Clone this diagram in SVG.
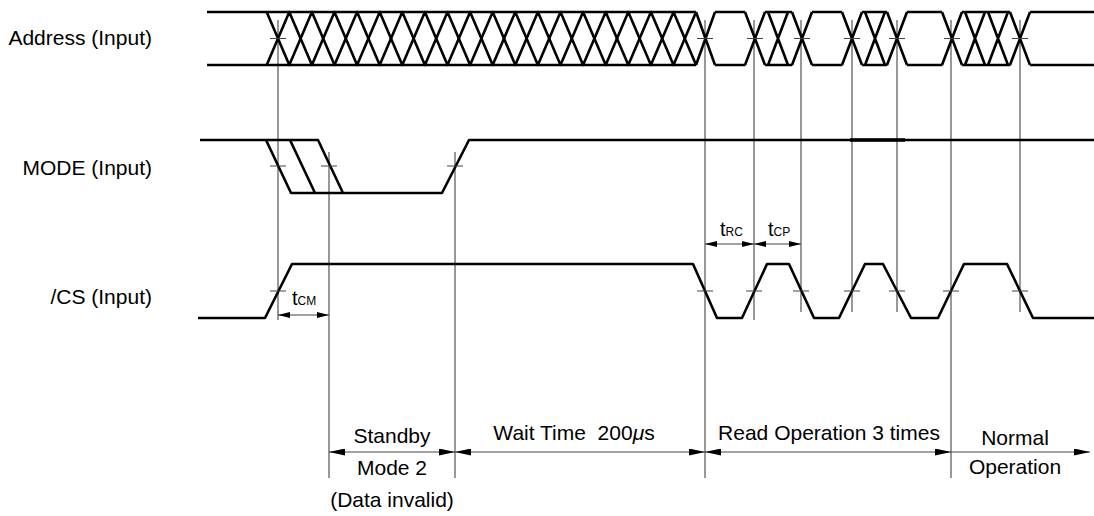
<svg xmlns="http://www.w3.org/2000/svg" width="1094" height="516" viewBox="0 0 1094 516">
<style>
text{font-family:"Liberation Sans",Arial,Helvetica,sans-serif;fill:#000}
.lbl{font-size:21px;text-anchor:end}
.ann{font-size:21px;text-anchor:middle}
.wave{fill:none;stroke:#000;stroke-width:2.6;stroke-linejoin:round;stroke-linecap:butt}
.ref{stroke:#444;stroke-width:1.1;fill:none}
.tick{stroke:#444;stroke-width:1.2;fill:none}
.dim{stroke:#444;stroke-width:1.2;fill:none}
.big{marker-start:url(#ab);marker-end:url(#ab)}
.sm{marker-start:url(#as);marker-end:url(#as)}
.t{font-size:20px}
.sub{font-size:12px}
</style>
<defs>
<marker id="ab" viewBox="0 0 16 7" refX="16" refY="3.5" markerWidth="16" markerHeight="7" markerUnits="userSpaceOnUse" orient="auto-start-reverse"><path d="M0,0 L16,3.5 L0,7 z" fill="#000"/></marker>
<marker id="as" viewBox="0 0 12 6" refX="12" refY="3" markerWidth="12" markerHeight="6" markerUnits="userSpaceOnUse" orient="auto-start-reverse"><path d="M0,0 L12,3 L0,6 z" fill="#000"/></marker>
</defs>

<g id="connectors">
<g id="reference-lines">
<line class="ref" x1="278" y1="20" x2="278" y2="320"/>
<line class="ref" x1="329" y1="152" x2="329" y2="478"/>
<line class="ref" x1="455" y1="152" x2="455" y2="478"/>
<line class="ref" x1="705" y1="20" x2="705" y2="478"/>
<line class="ref" x1="754" y1="20" x2="754" y2="320"/>
<line class="ref" x1="801" y1="20" x2="801" y2="312"/>
<line class="ref" x1="852" y1="20" x2="852" y2="312"/>
<line class="ref" x1="897" y1="20" x2="897" y2="312"/>
<line class="ref" x1="951" y1="20" x2="951" y2="478"/>
<line class="ref" x1="1020" y1="20" x2="1020" y2="312"/>
</g>
<g id="dimensions">
<line class="dim sm" x1="278" y1="315" x2="329" y2="315"/>
<line class="dim sm" x1="705" y1="244" x2="754" y2="244"/>
<line class="dim sm" x1="754" y1="244" x2="801" y2="244"/>
<line class="dim big" x1="329" y1="452" x2="455" y2="452"/>
<line class="dim big" x1="455" y1="452" x2="705" y2="452"/>
<line class="dim big" x1="705" y1="452" x2="951" y2="452"/>
<line class="dim" x1="951" y1="452" x2="1090" y2="452" marker-end="url(#ab)"/>
</g>
</g>

<g id="address">
<text class="lbl" x="152" y="45">Address (Input)</text>
<path class="wave" d="M207,12 H696 M207,65 H696"/>
<polyline class="wave" points="266.7,12 289.3,65 311.9,12 334.5,65 357.1,12 379.7,65 402.3,12 424.9,65 447.5,12 470.1,65 492.7,12 515.3,65 537.9,12 560.5,65 583.1,12 605.7,65 628.3,12 650.9,65 673.5,12 696.1,65"/>
<polyline class="wave" points="266.7,65 289.3,12 311.9,65 334.5,12 357.1,65 379.7,12 402.3,65 424.9,12 447.5,65 470.1,12 492.7,65 515.3,12 537.9,65 560.5,12 583.1,65 605.7,12 628.3,65 650.9,12 673.5,65 696.1,12"/>
<path class="wave" d="M715,12 H745 M765,12 H792 M812,12 H842 M862,12 H887 M907,12 H942 M962,12 H1010 M1030,12 H1094
M715,65 H745 M765,65 H792 M812,65 H842 M862,65 H887 M907,65 H942 M962,65 H1010 M1030,65 H1094
M696,12 L715,65 M696,65 L715,12
M745,12 L765,65 M745,65 L765,12
M768,12 L788,65 M768,65 L788,12
M792,12 L812,65 M792,65 L812,12
M842,12 L862,65 M842,65 L862,12
M865,12 L885,65 M865,65 L885,12
M887,12 L907,65 M887,65 L907,12
M942,12 L962,65 M942,65 L962,12
M965,12 L985,65 M965,65 L985,12
M988,12 L1008,65 M988,65 L1008,12
M1010,12 L1030,65 M1010,65 L1030,12"/>
<path class="tick" d="M270,38.5 H286 M697,38.5 H713 M747,38.5 H763 M794,38.5 H810 M844,38.5 H860 M889,38.5 H905 M944,38.5 H960 M1012,38.5 H1028"/>
</g>

<g id="mode">
<text class="lbl" x="152" y="175">MODE (Input)</text>
<path class="wave" d="M200,140 H318 L343,193 M266,140 L291,193 H442 L469,140 H1094 M290,140 L315,193"/>
<line x1="850" y1="140" x2="905" y2="140" stroke="#000" stroke-width="3.6"/>
<path class="tick" d="M270,166 H286 M321,166 H337 M447,166 H463"/>
</g>

<g id="cs">
<text class="lbl" x="152" y="304">/CS (Input)</text>
<path class="wave" d="M198,318 H265 L292,264 H693 L717,318 H742 L767,264 H789 L814,318 H839 L865,264 H883 L911,318 H938 L964,264 H1007 L1033,318 H1094"/>
<path class="tick" d="M270,291 H286 M697,291 H713 M746,291 H762 M793,291 H809 M844,291 H860 M889,291 H905 M943,291 H959 M1012,291 H1028"/>
</g>

<g id="t-cm"><text x="292" y="305"><tspan class="t">t</tspan><tspan class="sub">CM</tspan></text></g>
<g id="t-rc"><text x="720" y="236"><tspan class="t">t</tspan><tspan class="sub">RC</tspan></text></g>
<g id="t-cp"><text x="768" y="236"><tspan class="t">t</tspan><tspan class="sub">CP</tspan></text></g>

<g id="standby">
<text class="ann" x="392" y="443">Standby</text>
<text class="ann" x="392" y="475">Mode 2</text>
<text class="ann" x="392" y="507">(Data invalid)</text>
</g>
<g id="wait"><text class="ann" x="574" y="440" style="white-space:pre">Wait Time  200<tspan font-style="italic">μ</tspan>s</text></g>
<g id="read"><text class="ann" x="829" y="440">Read Operation 3 times</text></g>
<g id="normal">
<text class="ann" x="1015" y="445">Normal</text>
<text class="ann" x="1015" y="474">Operation</text>
</g>
</svg>
